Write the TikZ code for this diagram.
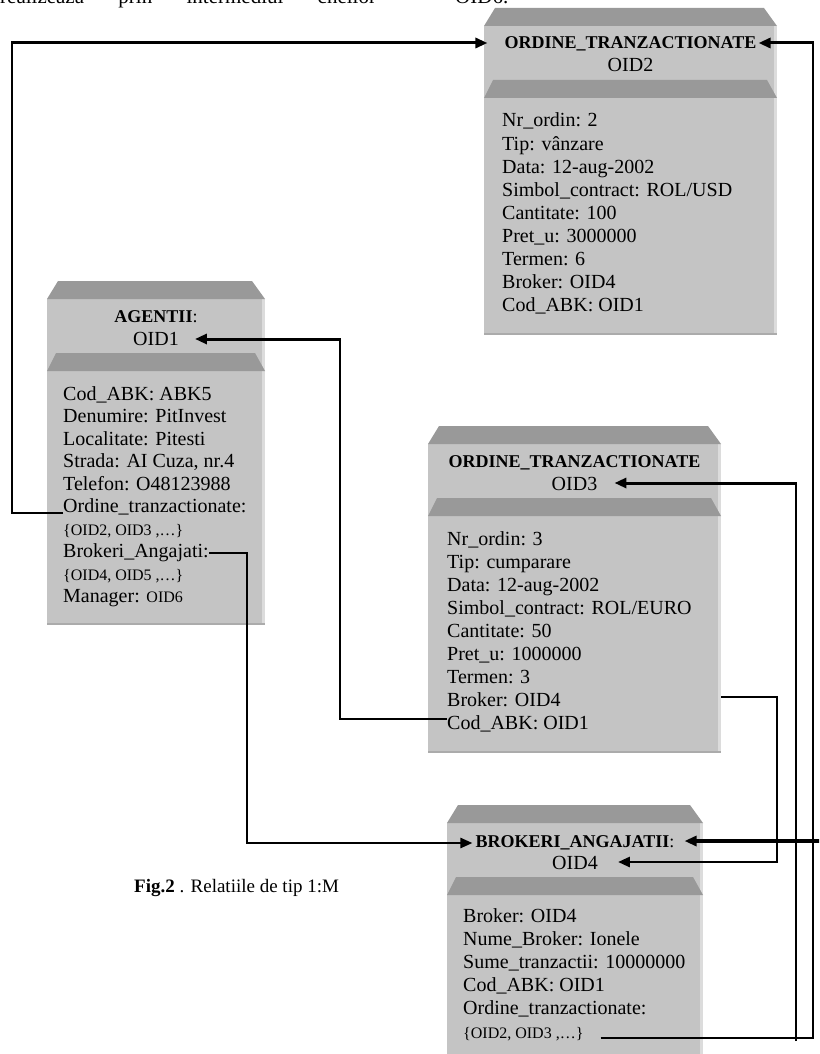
\documentclass[tikz,border=0pt]{standalone}
\usepackage{fontspec}
\setmainfont{Liberation Serif}
\usetikzlibrary{arrows.meta,calc}

\definecolor{boxgrey}{HTML}{C4C4C4}
\definecolor{bevel}{HTML}{999999}
\definecolor{edgelight}{HTML}{DCDCDC}
\definecolor{edgedark}{HTML}{ABABAB}

% object box: #1 left, #2 right, #3 top, #4 bottom, #5 name
\newcommand\objbox[5]{%
  \fill[boxgrey] (#1,#3+18) rectangle (#2,#4);
  \fill[edgelight] (#2-3,#3+18) rectangle (#2,#4);
  \fill[edgedark] (#1,#4-2) rectangle (#2,#4);
  \fill[bevel] (#1,#3+18) -- (#1+11,#3) -- (#2-13,#3) -- (#2,#3+18) -- cycle;
  \fill[bevel] (#1,#3+90) -- (#1+9,#3+72) -- (#2-10,#3+72) -- (#2,#3+90) -- cycle;
  \coordinate (#5-L) at (#1,#3);
  \coordinate (#5-R) at (#2,#3);
}
\newcommand\sm[1]{{\fontsize{16}{23}\selectfont #1}}

\begin{document}
\begin{tikzpicture}[x=1pt,y=-1pt,
  txt/.style={inner sep=0pt, anchor=base west, font=\fontsize{20}{23}\selectfont},
  ttl/.style={inner sep=0pt, anchor=base, font=\fontsize{18}{23}\selectfont\bfseries},
  oid/.style={inner sep=0pt, anchor=base, font=\fontsize{20}{23}\selectfont},
  link/.style={line width=2pt},
  tip/.style={line width=3pt, shorten <=-1pt, -{Triangle[length=12pt,width=10pt]}},
]
\useasboundingbox (0,0) rectangle (819,1054);
\clip (0,0) rectangle (819,1054);

% running text above the figure (only its lower edge lies inside the page)
\node[inner sep=0pt, anchor=base west, font=\fontsize{21}{23}\selectfont] (lead) at (0,3.5)
  {\makebox[508pt][s]{realizeaza prin intermediul cheilor – OID6.}};

% ---------------- ORDINE_TRANZACTIONATE : OID2
\objbox{484}{777}{8}{335}{b2}
\node[ttl] (o2t) at (630.5,49) {ORDINE\_TRANZACTIONATE};
\node[oid] (o2id) at (630.5,72) {OID2};
\foreach \t [count=\i] in {Nr\_ordin: 2, Tip: vânzare, Data: 12-aug-2002,
  Simbol\_contract: ROL/USD, Cantitate: 100, Pret\_u: 3000000, Termen: 6,
  Broker: OID4, Cod\_ABK: OID1}
  \node[txt] (o2b\i) at (502,{127+(\i-1)*23}) {\t};

% ---------------- AGENTII : OID1
\objbox{47}{265}{281}{625}{b1}
\node[ttl] (o1t) at (156,322) {AGENTII\textmd{:}};
\node[oid] (o1id) at (156,345) {OID1};
\foreach \t [count=\i] in {Cod\_ABK: ABK5, Denumire: PitInvest, Localitate: Pitesti,
  {Strada: AI Cuza, nr.4}, Telefon: O48123988, Ordine\_tranzactionate:,
  {\sm{\{OID2, OID3 ,…\}}}, Brokeri\_Angajati:, {\sm{\{OID4, OID5 ,…\}}},
  Manager: \sm{OID6}}
  \node[txt] (ab\i) at (63,{400+(\i-1)*22.5}) {\t};

% ---------------- ORDINE_TRANZACTIONATE : OID3
\objbox{428}{721}{426}{753}{b3}
\node[ttl] (o3t) at (574.5,467) {ORDINE\_TRANZACTIONATE};
\node[oid] (o3id) at (574.5,490) {OID3};
\foreach \t [count=\i] in {Nr\_ordin: 3, Tip: cumparare, Data: 12-aug-2002,
  Simbol\_contract: ROL/EURO, Cantitate: 50, Pret\_u: 1000000, Termen: 3,
  Broker: OID4, Cod\_ABK: OID1}
  \node[txt] (o3b\i) at (447,{545+(\i-1)*23}) {\t};

% ---------------- BROKERI_ANGAJATII : OID4
\objbox{447}{703}{805}{1070}{b4}
\node[ttl] (o4t) at (575,847) {BROKERI\_ANGAJATII\textmd{:}};
\node[oid] (o4id) at (575,869) {OID4};
\foreach \t [count=\i] in {Broker: OID4, Nume\_Broker: Ionele,
  Sume\_tranzactii: 10000000, Cod\_ABK: OID1, Ordine\_tranzactionate:,
  {\sm{\{OID2, OID3 ,…\}}}}
  \node[txt] (o4b\i) at (463,{922+(\i-1)*23.2}) {\t};

% caption
\node[inner sep=0pt, anchor=base west, font=\fontsize{19}{23}\selectfont] (cap) at (134,892)
  {\textbf{Fig.2} . Relatiile de tip 1:M};

% ---------------- connectors
% AGENTII.Ordine_tranzactionate -> OID2
\coordinate (tA) at ([xshift=-17pt,yshift=6pt]o2t.base west);
\coordinate (cA) at (12,0);
\draw[link] (ab6.base west) -| (cA |- tA);
\draw[tip] (cA |- tA) -- (tA);

% OID3.Cod_ABK -> OID1
\coordinate (tB) at ([xshift=16pt,yshift=6pt]o1id.base east);
\coordinate (cB) at (340,0);
\path ([yshift=10pt]o3b9.base west) coordinate (sB);
\draw[link] (sB) -| (cB |- tB);
\draw[tip] (cB |- tB) -- (tB);

% AGENTII.Brokeri_Angajati -> BROKERI_ANGAJATII
\path ([yshift=5pt]ab8.base east) coordinate (sC);
\coordinate (tC) at ([xshift=-3pt,yshift=4pt]o4t.base west);
\coordinate (cC) at (247,0);
\draw[link] (sC) -| (cC |- tC);
\draw[tip, line width=2.4pt] (cC |- tC) -- (tC);

% OID3.Broker -> OID4
\path ([yshift=9pt]o3b8.base) coordinate (sDy);
\coordinate (tD) at ([xshift=20pt,yshift=7pt]o4id.base east);
\coordinate (cD) at (777,0);
\draw[link] (sDy -| b3-R) -| (cD |- tD);
\draw[tip, line width=2.8pt] (cD |- tD) -- (tD);

% BROKERI.Ordine_tranzactionate -> OID2 and OID3
\path ([xshift=17pt]o4b6.base east) coordinate (sE);
\coordinate (cE) at (813,0);
\coordinate (tE) at ([xshift=2pt,yshift=6pt]o2t.base east);
\draw[link] (sE) -| (cE |- tE);
\draw[tip] (cE |- tE) -- (tE);
\coordinate (cF) at (796,0);
\path (sE -| cF) coordinate (jF);
\coordinate (tF) at ([xshift=17pt,yshift=7pt]o3id.base east);
\draw[link] ([yshift=-3pt]jF) -- (jF |- tF);
\draw[tip] (cF |- tF) -- (tF);

% incoming reference on BROKERI_ANGAJATII
\coordinate (tG) at ([xshift=10pt,yshift=6pt]o4t.base east);
\coordinate (cG) at (822,0);
\draw[tip, line width=3.2pt] (cG |- tG) -- (tG);
\end{tikzpicture}
\end{document}
